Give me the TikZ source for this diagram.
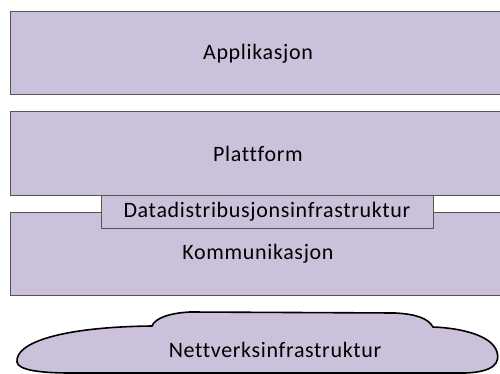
\documentclass[tikz,border=0pt]{standalone}
\usepackage{fontspec}
\setmainfont{Carlito}[Ligatures=NoCommon,LetterSpace=3]
\definecolor{lav}{HTML}{CCC1DA}
\definecolor{edge}{HTML}{555555}
\begin{document}
\begin{tikzpicture}[x=1pt,y=-1pt,
  txt/.style={font=\fontsize{22}{25}\selectfont},
  layer/.style={txt,draw=edge,fill=lav,line width=1pt,minimum width=496pt,minimum height=83pt,inner sep=0pt},
  ddbox/.style={txt,draw=edge,fill=lav,line width=1pt,minimum width=332pt,minimum height=33pt,inner sep=0pt},
  cloudline/.style={draw=black,fill=lav,line width=1.6pt}]
\useasboundingbox (0,0) rectangle (500,374);
\clip (0,0) rectangle (500,374);
\node[layer] (app) at (258,53.5) {Applikasjon};
\node[layer] (plat) at (258,153.5) {Plattform};
\node[layer] (komm) at (258,253.5) {Kommunikasjon};
\node[ddbox] (dd) at (267,211.5) {Datadistribusjonsinfrastruktur};
\draw[cloudline] (152,326) .. controls (60,327) and (15,343) .. (17,362)
  .. controls (18,370) and (40,373) .. (70,373) -- (465,373)
  .. controls (495,372) and (500,362) .. (497,352)
  .. controls (492,335) and (460,328) .. (433,327)
  .. controls (428,318) and (415,314) .. (395,313) -- (190,312)
  .. controls (170,313) and (155,318) .. (152,326) -- cycle;
\node[txt,inner sep=0pt] (net) at (275,350) {Nettverksinfrastruktur};
\end{tikzpicture}
\end{document}
